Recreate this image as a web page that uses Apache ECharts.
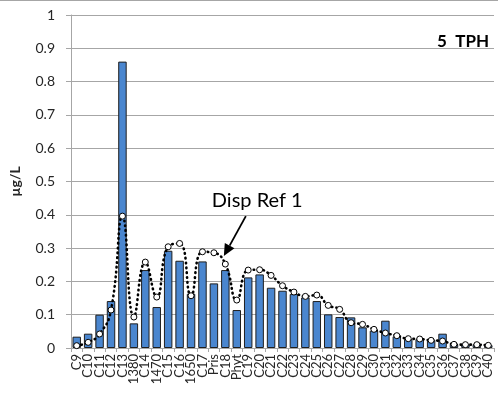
<!DOCTYPE html>
<html>
<head>
<meta charset="utf-8">
<style>
  html, body { margin: 0; padding: 0; background: #fff; }
  #chart { width: 498px; height: 394px; }
</style>
<script src="https://cdn.jsdelivr.net/npm/echarts@6/dist/echarts.min.js"></script>
</head>
<body>
<div id="chart"></div>
<script>
// Compound / peak names along the x axis
const categories = ['C9','C10','C11','C12','C13','1380','C14','1470','C15','C16','1650','C17','Pris','C18','Phyt',
  'C19','C20','C21','C22','C23','C24','C25','C26','C27','C28','C29','C30','C31','C32','C33','C34','C35','C36',
  'C37','C38','C39','C40'];

// Sample concentrations (µg/L), drawn as bars
const sampleValues = [0.034,0.043,0.100,0.141,0.860,0.074,0.234,0.123,0.292,0.262,0.163,0.260,0.194,0.234,0.114,
  0.212,0.221,0.181,0.172,0.162,0.152,0.141,0.101,0.093,0.092,0.062,0.052,0.082,0.035,0.027,0.027,0.025,0.043,
  0.012,0.011,0.011,0.009];

// Dispersant reference profile, drawn as a dotted smoothed line with open markers
const refValues = [0.007,0.017,0.042,0.114,0.396,0.093,0.258,0.153,0.304,0.314,0.157,0.289,0.286,0.252,0.144,
  0.234,0.235,0.218,0.187,0.168,0.155,0.159,0.128,0.116,0.076,0.071,0.056,0.045,0.037,0.028,0.027,0.023,0.021,
  0.011,0.010,0.010,0.008];

const yTicks = { min: 0, max: 1, interval: 0.1 };
const refName = 'Disp Ref 1';
const panelTitle = '5  TPH';
const yTitle = 'µg/L';

const FONT = 'Lato, "Open Sans", sans-serif';
const TEXT = '#262626';

const chart = echarts.init(document.getElementById('chart'), null, { renderer: 'canvas' });

chart.setOption({
  animation: false,
  backgroundColor: '#ffffff',
  grid: { left: 62, right: 4, top: 15, bottom: 46, containLabel: false },
  xAxis: {
    type: 'category',
    data: categories,
    boundaryGap: true,
    axisLine: { lineStyle: { color: '#a6a6a6', width: 1 } },
    axisTick: { show: true, interval: 0, length: 4, lineStyle: { color: '#a6a6a6' } },
    axisLabel: { interval: 0, rotate: 90, margin: 6, fontFamily: FONT, fontSize: 13, color: TEXT }
  },
  yAxis: {
    type: 'value',
    min: yTicks.min, max: yTicks.max, interval: yTicks.interval,
    name: yTitle,
    nameLocation: 'middle',
    nameGap: 49,
    nameRotate: 90,
    nameTextStyle: { fontFamily: FONT, fontSize: 14, fontWeight: 'bold', color: TEXT },
    axisLine: { show: true, lineStyle: { color: '#a6a6a6', width: 1 } },
    axisTick: { show: true, length: 5, lineStyle: { color: '#a6a6a6' } },
    axisLabel: { margin: 16, fontFamily: FONT, fontSize: 14, color: TEXT },
    splitLine: { show: true, lineStyle: { color: '#a6a6a6', width: 1 } }
  },
  series: [
    {
      name: 'Sample',
      type: 'bar',
      data: sampleValues,
      barCategoryGap: '26%',
      itemStyle: { color: '#4a86cf', borderColor: '#1f1f1f', borderWidth: 1 },
      z: 2
    },
    {
      name: refName,
      type: 'line',
      data: refValues,
      smooth: 0.5,
      symbol: 'circle',
      symbolSize: 6,
      showAllSymbol: true,
      itemStyle: { color: '#ffffff', borderColor: '#000000', borderWidth: 1 },
      lineStyle: { color: '#000000', width: 2.6, type: [0.6, 4.2], cap: 'round' },
      z: 3
    }
  ]
});

// Annotation: label with an arrow pointing at the C18 point of the reference profile
function drawAnnotation() {
  const tip = chart.convertToPixel({ seriesIndex: 1 }, ['C18', refValues[categories.indexOf('C18')]]);
  const tx = tip[0] - 1.5, ty = tip[1] - 8;
  const sx = tx + 22, sy = ty - 40;
  const ang = Math.atan2(ty - sy, tx - sx);
  const headLen = 12, headHalf = 5.5;
  const bx = tx - headLen * Math.cos(ang), by = ty - headLen * Math.sin(ang);
  const nx = -Math.sin(ang), ny = Math.cos(ang);

  chart.setOption({
    graphic: [
      {
        type: 'line', silent: true,
        shape: { x1: 0, y1: 0.5, x2: 498, y2: 0.5 },
        style: { stroke: '#a6a6a6', lineWidth: 1 }
      },
      {
        type: 'text', silent: true, z: 10,
        x: 489, y: 42,
        style: { text: panelTitle, font: 'bold 17px ' + FONT, fill: '#000', align: 'right', verticalAlign: 'middle' }
      },
      {
        type: 'line', silent: true, z: 10,
        shape: { x1: sx, y1: sy, x2: bx, y2: by },
        style: { stroke: '#000', lineWidth: 1.8 }
      },
      {
        type: 'polygon', silent: true, z: 10,
        shape: { points: [[tx, ty], [bx + nx * headHalf, by + ny * headHalf], [bx - nx * headHalf, by - ny * headHalf]] },
        style: { fill: '#000' }
      },
      {
        type: 'text', silent: true, z: 10,
        x: tx - 12, y: ty - 56,
        style: { text: refName, font: '20px ' + FONT, fill: '#000', align: 'left', verticalAlign: 'middle' }
      }
    ]
  });
}
drawAnnotation();
</script>
</body>
</html>
